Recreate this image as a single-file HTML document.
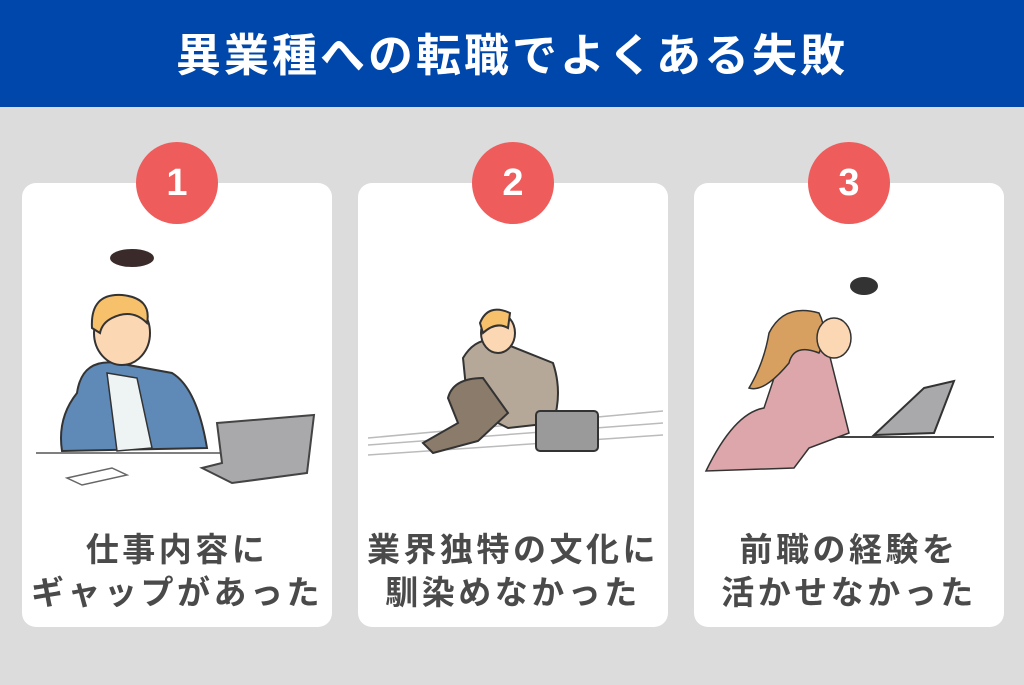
<!DOCTYPE html>
<html><head><meta charset="utf-8"><style>
*{margin:0;padding:0;box-sizing:border-box}
body{width:1024px;height:685px;background:#dcdcdc;position:relative;overflow:hidden;font-family:"Liberation Sans","Noto Sans CJK JP",sans-serif}
.hd{position:absolute;left:0;top:0;width:1024px;height:107px;background:#0047ab;color:#fff;font-weight:700;font-size:45px;text-align:center;line-height:112px;letter-spacing:3px}
.card{position:absolute;top:183px;width:310px;height:444px;background:#fff;border-radius:14px}
.num{position:absolute;top:142px;width:82px;height:82px;border-radius:50%;background:#ee5c5c;color:#fff;font-weight:700;font-size:38px;text-align:center;line-height:82px}
.t{position:absolute;left:0;width:310px;text-align:center;color:#4a4a4a;font-weight:700;font-size:33px;letter-spacing:3.5px;line-height:43px}
svg{position:absolute;left:0;top:0}
</style></head><body>
<div class="hd">異業種への転職でよくある失敗</div>

<div class="card" style="left:22px">
<svg width="310" height="320" viewBox="0 0 310 320">
<ellipse cx="110" cy="75" rx="22" ry="9" fill="#3a2a2a"/>
<line x1="14" y1="270" x2="200" y2="270" stroke="#555" stroke-width="1.5"/>
<path d="M55 210 Q60 175 95 180 L150 190 Q175 205 185 265 L40 268 Q35 235 55 210Z" fill="#5f8ab8" stroke="#333" stroke-width="2"/>
<path d="M85 190 L115 195 L130 265 L95 268Z" fill="#eef4f4" stroke="#333" stroke-width="1.5"/>
<ellipse cx="100" cy="150" rx="28" ry="32" fill="#fbd7b4" stroke="#333" stroke-width="2"/>
<path d="M70 145 Q68 110 100 112 Q130 115 125 140 Q110 125 90 135 Q80 140 78 150Z" fill="#f7c06b" stroke="#333" stroke-width="2"/>
<path d="M195 240 L292 232 L285 290 L210 300 L180 285 L200 280Z" fill="#a9a9ab" stroke="#444" stroke-width="2"/>
<path d="M45 295 L90 285 L105 292 L60 302Z" fill="#fff" stroke="#666" stroke-width="1.5"/>
</svg>
<div class="t" style="top:345px">仕事内容に</div>
<div class="t" style="top:388px">ギャップがあった</div>
</div>
<div class="num" style="left:136px">1</div>

<div class="card" style="left:358px">
<svg width="310" height="320" viewBox="0 0 310 320">
<line x1="10" y1="255" x2="305" y2="228" stroke="#bbb" stroke-width="1.5"/>
<line x1="10" y1="262" x2="305" y2="240" stroke="#bbb" stroke-width="1.5"/>
<line x1="10" y1="272" x2="305" y2="252" stroke="#bbb" stroke-width="1.5"/>
<path d="M105 175 Q120 150 145 160 L195 180 Q205 210 195 240 L150 245 L110 225Z" fill="#b5a898" stroke="#333" stroke-width="2"/>
<path d="M90 215 Q95 195 125 195 L150 230 L120 258 L75 270 L65 260 L100 240Z" fill="#8b7b6b" stroke="#333" stroke-width="2"/>
<ellipse cx="140" cy="150" rx="17" ry="20" fill="#fbd7b4" stroke="#333" stroke-width="2"/>
<path d="M122 140 Q130 120 152 130 L150 145 Q138 138 125 150Z" fill="#f7c06b" stroke="#333" stroke-width="2"/>
<rect x="178" y="228" width="62" height="40" rx="4" fill="#9a9a9a" stroke="#333" stroke-width="2"/>
</svg>
<div class="t" style="top:345px">業界独特の文化に</div>
<div class="t" style="top:388px">馴染めなかった</div>
</div>
<div class="num" style="left:472px">2</div>

<div class="card" style="left:694px">
<svg width="310" height="320" viewBox="0 0 310 320">
<ellipse cx="170" cy="103" rx="14" ry="9" fill="#333"/>
<line x1="118" y1="254" x2="300" y2="254" stroke="#444" stroke-width="2"/>
<path d="M90 165 Q115 150 135 170 L155 250 L115 265 L100 285 L12 288 Q40 230 70 225Z" fill="#dca6aa" stroke="#333" stroke-width="1.5"/>
<path d="M75 150 Q90 120 125 130 Q135 150 125 170 Q100 160 95 180 Q70 210 55 205 Q70 180 75 150Z" fill="#d8a060" stroke="#333" stroke-width="1.5"/>
<ellipse cx="140" cy="155" rx="17" ry="20" fill="#fbd7b4" stroke="#333" stroke-width="1.5"/>
<path d="M230 205 L260 198 L240 250 L180 252Z" fill="#a9a9ab" stroke="#333" stroke-width="2"/>
</svg>
<div class="t" style="top:345px">前職の経験を</div>
<div class="t" style="top:388px">活かせなかった</div>
</div>
<div class="num" style="left:808px">3</div>
</body></html>
